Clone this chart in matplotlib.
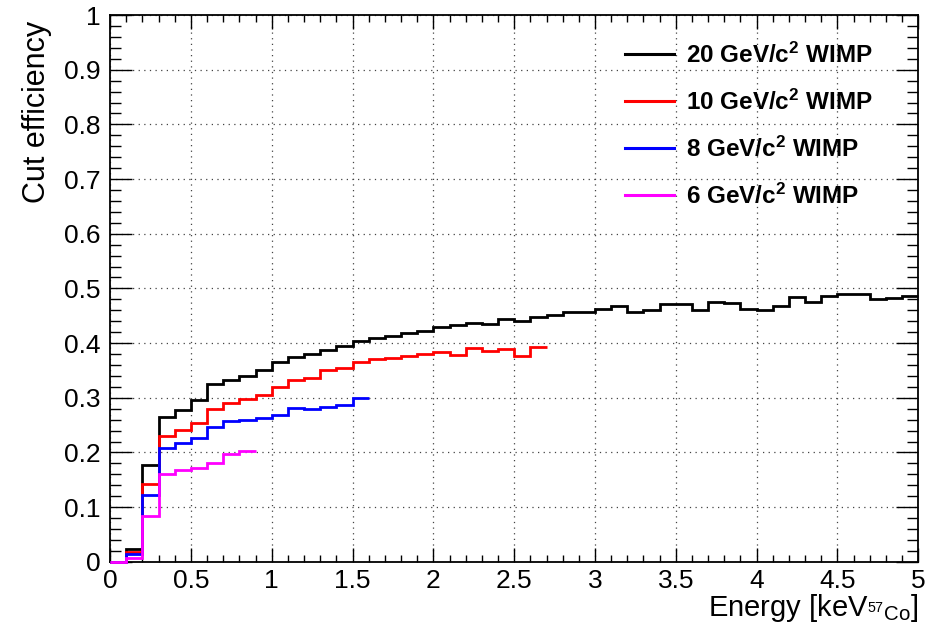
import numpy as np
import matplotlib
matplotlib.use("Agg")
import matplotlib.pyplot as plt
from matplotlib.ticker import MultipleLocator, FormatStrFormatter

plt.rcParams['font.family'] = ['Liberation Sans', 'DejaVu Sans']
plt.rcParams['mathtext.fontset'] = 'custom'
plt.rcParams['mathtext.rm'] = 'Liberation Sans'
plt.rcParams['mathtext.it'] = 'Liberation Sans:italic'
plt.rcParams['mathtext.bf'] = 'Liberation Sans:bold'

bin_width = 0.1  # keV

# cut efficiency per energy bin, one array per WIMP mass
eff_20 = [0.000, 0.024, 0.177, 0.265, 0.277, 0.296, 0.325, 0.333, 0.340, 0.351,
          0.365, 0.374, 0.380, 0.388, 0.395, 0.403, 0.409, 0.413, 0.418, 0.423,
          0.430, 0.433, 0.437, 0.435, 0.444, 0.441, 0.448, 0.452, 0.456, 0.457,
          0.462, 0.467, 0.457, 0.460, 0.472, 0.471, 0.460, 0.475, 0.473, 0.463,
          0.460, 0.467, 0.484, 0.476, 0.487, 0.490, 0.489, 0.480, 0.483, 0.486]
eff_10 = [0.000, 0.017, 0.143, 0.230, 0.241, 0.254, 0.279, 0.290, 0.298, 0.305,
          0.319, 0.332, 0.337, 0.350, 0.354, 0.365, 0.371, 0.373, 0.377, 0.380,
          0.383, 0.378, 0.391, 0.386, 0.389, 0.377, 0.392]
eff_8 = [0.000, 0.015, 0.122, 0.208, 0.218, 0.227, 0.246, 0.258, 0.260, 0.263,
         0.268, 0.281, 0.280, 0.283, 0.287, 0.300]
eff_6 = [0.000, 0.007, 0.084, 0.161, 0.167, 0.171, 0.180, 0.197, 0.203]

series = [
    (eff_20, 'black', r'20 GeV/c$^{\mathbf{2}}$ WIMP'),
    (eff_10, '#ff0000', r'10 GeV/c$^{\mathbf{2}}$ WIMP'),
    (eff_8, '#0000ff', r'8 GeV/c$^{\mathbf{2}}$ WIMP'),
    (eff_6, '#ff00ff', r'6 GeV/c$^{\mathbf{2}}$ WIMP'),
]

fig = plt.figure(figsize=(9.37, 6.27), dpi=100)
ax = fig.add_axes([0.1175, 0.104, 0.8625, 0.872])

for vals, col, lab in series:
    edges = np.arange(len(vals) + 1) * bin_width
    ax.stairs(vals, edges, baseline=None, color=col, linewidth=2.0,
              label=lab, clip_on=False, zorder=3)

ax.set_xlim(0, 5)
ax.set_ylim(0, 1)

ax.xaxis.set_major_locator(MultipleLocator(0.5))
ax.xaxis.set_minor_locator(MultipleLocator(0.1))
ax.yaxis.set_major_locator(MultipleLocator(0.1))
ax.yaxis.set_minor_locator(MultipleLocator(0.02))
ax.xaxis.set_major_formatter(FormatStrFormatter('%g'))
ax.yaxis.set_major_formatter(FormatStrFormatter('%g'))

ax.tick_params(which='both', direction='in', top=True, right=True,
               labelsize=19, width=1.0)
ax.tick_params(axis='x', which='major', length=10, pad=5)
ax.tick_params(axis='x', which='minor', length=5)
ax.tick_params(axis='y', which='major', length=16, pad=7)
ax.tick_params(axis='y', which='minor', length=8)
for sp in ax.spines.values():
    sp.set_linewidth(1.3)

ax.grid(True, which='major', color='#444444', linestyle=(0, (1, 3.5)),
        linewidth=0.9)

ax.set_ylabel('Cut efficiency', fontsize=22, loc='top')
ax.yaxis.set_label_coords(-0.072, 0.99)
ax.set_xlabel(r'Energy [keV$_{^{57}\mathrm{Co}}$]', fontsize=21, loc='right')
ax.xaxis.set_label_coords(1.0, -0.055)
ax.xaxis.label.set_va('top')

leg = ax.legend(loc='upper left', bbox_to_anchor=(0.61, 0.99), frameon=False,
                prop={'weight': 'bold', 'size': 17.5}, handlelength=2.0,
                handletextpad=0.5, labelspacing=0.9)
for h in leg.get_lines():
    h.set_linewidth(2.2)

fig.savefig('out.png', dpi=100)
